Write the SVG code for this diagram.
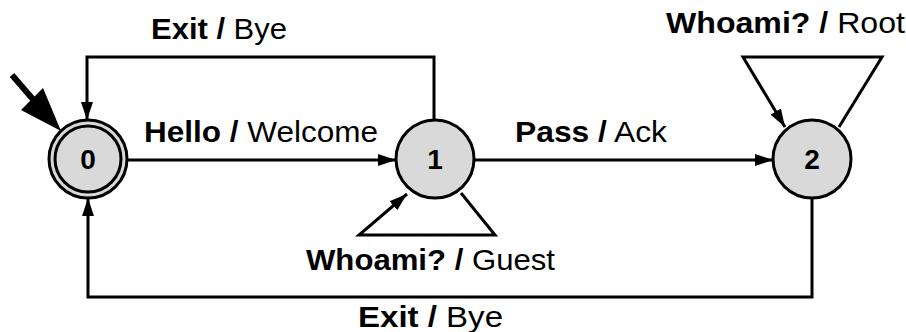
<svg xmlns="http://www.w3.org/2000/svg" width="906" height="332" viewBox="0 0 906 332">
<defs>
<style>
.st{fill:#d9d9d9;stroke:#000;stroke-width:3}
.in{fill:none;stroke:#000;stroke-width:3}
.nl{font-family:"Liberation Sans",Arial,sans-serif;font-weight:bold;font-size:28px;text-anchor:middle;fill:#000}
.c{fill:none;stroke:#000;stroke-width:3}
.lb{font-family:"Liberation Sans",Arial,sans-serif;font-size:29px;fill:#000}
.b{font-weight:bold}
</style>
<marker id="ah" markerUnits="userSpaceOnUse" markerWidth="18" markerHeight="12" refX="18" refY="6" orient="auto">
<path d="M0,0 L18,6 L0,12 z" fill="#000"/>
</marker>
</defs>
<g id="connectors">
<path class="c" d="M126,160 H396" marker-end="url(#ah)"/>
<path class="c" d="M474,160 H773" marker-end="url(#ah)"/>
<path class="c" d="M434,120 V57 H87 V120" marker-end="url(#ah)"/>
<path class="c" d="M812,198 V297 H88 V198" marker-end="url(#ah)"/>
<path class="c" d="M461,193 L495,235 H359 L407,194" marker-end="url(#ah)"/>
<path class="c" d="M839,127 L882,57 H743 L785,127" marker-end="url(#ah)"/>
<line x1="12" y1="75" x2="37" y2="104" stroke="#000" stroke-width="6"/>
<polygon points="61,131 21,110 43,88" fill="#000"/>
</g>
<g id="labels">
<text class="lb" x="151" y="39" textLength="136" lengthAdjust="spacingAndGlyphs"><tspan class="b">Exit /</tspan> Bye</text>
<text class="lb" x="144" y="142" textLength="234" lengthAdjust="spacingAndGlyphs"><tspan class="b">Hello /</tspan> Welcome</text>
<text class="lb" x="515" y="142" textLength="152" lengthAdjust="spacingAndGlyphs"><tspan class="b">Pass /</tspan> Ack</text>
<text class="lb" x="666" y="33" textLength="239" lengthAdjust="spacingAndGlyphs"><tspan class="b">Whoami? /</tspan> Root</text>
<text class="lb" x="306" y="270" textLength="249" lengthAdjust="spacingAndGlyphs"><tspan class="b">Whoami? /</tspan> Guest</text>
<text class="lb" x="358" y="327" textLength="145" lengthAdjust="spacingAndGlyphs"><tspan class="b">Exit /</tspan> Bye</text>
</g>
<g id="node0">
<circle class="st" cx="88" cy="159" r="39"/>
<circle class="in" cx="88" cy="159" r="33"/>
<text class="nl" x="88" y="169">0</text>
</g>
<g id="node1">
<circle class="st" cx="435" cy="159" r="39"/>
<text class="nl" x="435" y="169">1</text>
</g>
<g id="node2">
<circle class="st" cx="812" cy="159" r="39"/>
<text class="nl" x="812" y="169">2</text>
</g>
</svg>
